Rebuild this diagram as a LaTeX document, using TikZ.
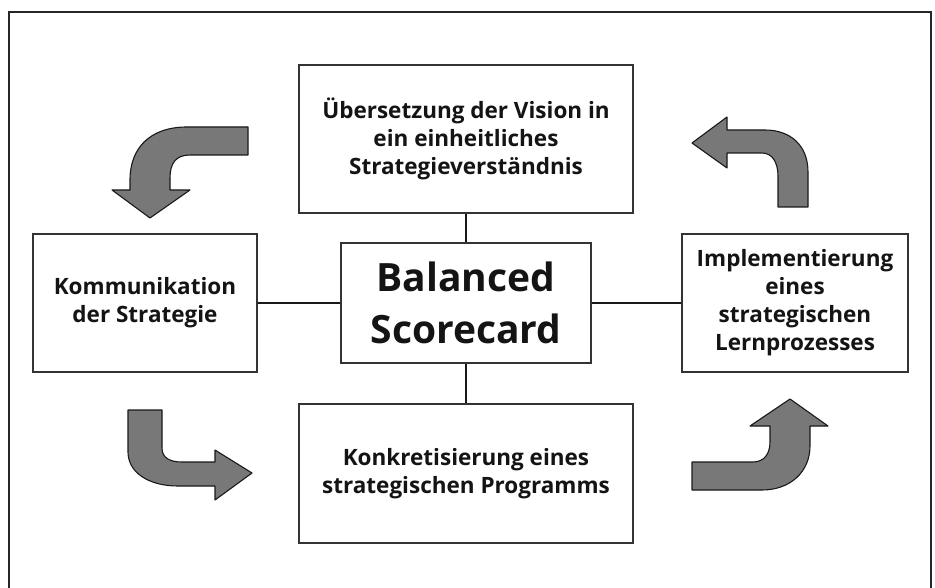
\documentclass[tikz,border=0pt]{standalone}
\usepackage{fontspec}
\setmainfont{Open Sans}
\begin{document}
\begin{tikzpicture}[x=1pt,y=-1pt,
  box/.style={draw=black!80, line width=1.8pt, align=center, inner sep=0pt,
    text=black!92, font=\bfseries\fontsize{22.5}{28}\selectfont},
  core/.style={draw=black!80, line width=1.8pt, align=center, inner sep=0pt,
    text=black!92, font=\bfseries\fontsize{39}{52}\selectfont},
  link/.style={draw=black!90, line width=2.6pt},
  turn/.style={fill=black!53, draw=black!90, line width=1.1pt, line join=round}]
\useasboundingbox (0,0) rectangle (935,588);

% outer frame (open at the bottom)
\draw[line width=2.2pt, black!85] (9,588) -- (9,12) -- (931,12) -- (931,588);

% boxes
\node[core, minimum width=250pt, minimum height=120pt] (bsc) at (466,303)
  {Balanced\\Scorecard};
\node[box, minimum width=334pt, minimum height=148pt] (vision) at (466,139)
  {Übersetzung der Vision in\\ein einheitliches\\Strategieverständnis};
\node[box, minimum width=334pt, minimum height=139pt] (prog) at (466,473.5)
  {Konkretisierung eines\\strategischen Programms};
\node[box, minimum width=224pt, minimum height=138pt] (komm) at (145,303)
  {Kommunikation\\der Strategie};
\node[box, minimum width=226pt, minimum height=138pt] (lern) at (795,303)
  {Implementierung\\eines\\strategischen\\Lernprozesses};

% connectors
\draw[link] (vision.south) -- (bsc.north);
\draw[link] (bsc.south) -- (prog.north);
\draw[link] (komm.east) -- (bsc.west);
\draw[link] (bsc.east) -- (lern.west);

% curved arrows
\path[turn] (248,127) -- (187,127) .. controls (150,127) and (130,148) .. (130,180)
  -- (130,190) -- (112,190) -- (150,218) -- (190,190) -- (170,190) -- (170,178)
  .. controls (170,163) and (176,155) .. (190,155) -- (248,155) -- cycle;
\path[turn] (778,207) -- (808,207) -- (808,172) .. controls (808,145) and (790,130) .. (765,130)
  -- (727,130) -- (727,117) -- (692,143) -- (727,168) -- (727,153) -- (762,153)
  .. controls (772,153) and (778,162) .. (778,176) -- cycle;
\path[turn] (128,410) -- (162,410) -- (162,448) .. controls (162,458) and (170,462) .. (182,462)
  -- (215,462) -- (215,450) -- (252,473) -- (215,500) -- (215,486) -- (178,486)
  .. controls (148,486) and (128,472) .. (128,452) -- cycle;
\path[turn] (692,462) -- (753,462) .. controls (764,462) and (770,454) .. (770,442)
  -- (770,426) -- (750,426) -- (790,399) -- (828,426) -- (810,426) -- (810,446)
  .. controls (810,472) and (790,490) .. (762,490) -- (692,490) -- cycle;
\end{tikzpicture}
\end{document}
